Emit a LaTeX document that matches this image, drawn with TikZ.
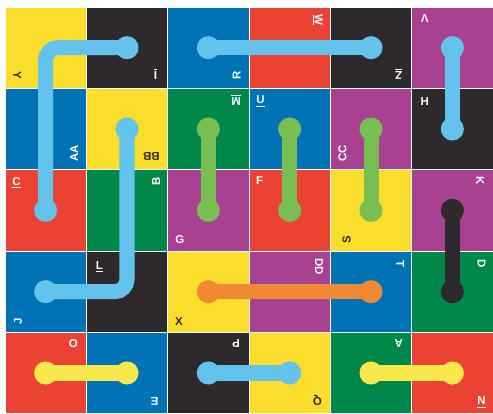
\documentclass[tikz,border=0pt]{standalone}
\usepackage{fontspec}
\setmainfont{Liberation Sans}
\usepackage{tikz}
\usetikzlibrary{positioning, arrows.meta, calc}
\definecolor{tileyellow}{HTML}{FBDD2C}
\definecolor{tileblack}{HTML}{2D292C}
\definecolor{tileblue}{HTML}{0073B7}
\definecolor{tilered}{HTML}{EA4333}
\definecolor{tilegreen}{HTML}{00884B}
\definecolor{tilepurple}{HTML}{A8418F}
\definecolor{pipesky}{HTML}{63C3EC}
\definecolor{pipegreen}{HTML}{78BE52}
\definecolor{pipeorange}{HTML}{F18833}
\definecolor{pipedark}{HTML}{2D292C}
\definecolor{pipeyellow}{HTML}{F9E84C}
\tikzset{
	cell/.style={rectangle, draw=white, line width=0.6pt, minimum size=2cm, inner sep=0pt, outer sep=0pt},
	tag/.style={text=white, font=\fontsize{8}{9}\selectfont\bfseries, inner sep=0pt},
	tagdark/.style={tag, text=tileblack},
	pipe/.style={line width=10.5pt, {Circle[length=16pt]}-{Circle[length=16pt]}, shorten <=-8pt, shorten >=-8pt, rounded corners=0.3cm}
}
\begin{document}
\begin{tikzpicture}[x=2cm, y=2cm, node distance=0pt]
		\useasboundingbox (-0.0615,0.086) rectangle (6,-5);
		% tiles, row by row
		\node[cell, fill=tileyellow] (a1) at (0.5,-0.5) {};
		\node[cell, fill=tileblack, right=of a1] (a2) {};
		\node[cell, fill=tileblue, right=of a2] (a3) {};
		\node[cell, fill=tilered, right=of a3] (a4) {};
		\node[cell, fill=tileblack, right=of a4] (a5) {};
		\node[cell, fill=tilepurple, right=of a5] (a6) {};
		
		\node[cell, fill=tileblue, below=of a1] (b1) {};
		\node[cell, fill=tileyellow, right=of b1] (b2) {};
		\node[cell, fill=tilegreen, right=of b2] (b3) {};
		\node[cell, fill=tileblue, right=of b3] (b4) {};
		\node[cell, fill=tilepurple, right=of b4] (b5) {};
		\node[cell, fill=tileblack, right=of b5] (b6) {};
		
		\node[cell, fill=tilered, below=of b1] (c1) {};
		\node[cell, fill=tilegreen, right=of c1] (c2) {};
		\node[cell, fill=tilepurple, right=of c2] (c3) {};
		\node[cell, fill=tilered, right=of c3] (c4) {};
		\node[cell, fill=tileyellow, right=of c4] (c5) {};
		\node[cell, fill=tilepurple, right=of c5] (c6) {};
		
		\node[cell, fill=tileblue, below=of c1] (d1) {};
		\node[cell, fill=tileblack, right=of d1] (d2) {};
		\node[cell, fill=tileyellow, right=of d2] (d3) {};
		\node[cell, fill=tilepurple, right=of d3] (d4) {};
		\node[cell, fill=tileblue, right=of d4] (d5) {};
		\node[cell, fill=tilegreen, right=of d5] (d6) {};
		
		\node[cell, fill=tilered, below=of d1] (e1) {};
		\node[cell, fill=tileblue, right=of e1] (e2) {};
		\node[cell, fill=tileblack, right=of e2] (e3) {};
		\node[cell, fill=tileyellow, right=of e3] (e4) {};
		\node[cell, fill=tilegreen, right=of e4] (e5) {};
		\node[cell, fill=tilered, right=of e5] (e6) {};
		
		% letters in the corners
		\node[tagdark, rotate=-90] (ta1) at ($(a1.south west)+(0.15,0.16)$) {Y};
		\node[tag, rotate=180] (ta2) at ($(a2.south east)+(-0.15,0.18)$) {\underline{I}};
		\node[tag, rotate=90] (ta3) at ($(a3.south east)+(-0.15,0.16)$) {R};
		\node[tag, rotate=-90] (ta4) at ($(a4.north east)+(-0.16,-0.16)$) {\underline{W}};
		\node[tag, rotate=180] (ta5) at ($(a5.south east)+(-0.16,0.18)$) {\underline{Z}};
		\node[tag, rotate=180] (ta6) at ($(a6.north west)+(0.16,-0.14)$) {V};
		
		\node[tag, rotate=90] (tb1) at ($(b1.south east)+(-0.15,0.2)$) {AA};
		\node[tagdark, rotate=180] (tb2) at ($(b2.south east)+(-0.2,0.16)$) {BB};
		\node[tag, rotate=180] (tb3) at ($(b3.north east)+(-0.16,-0.14)$) {\underline{M}};
		\node[tag] (tb4) at ($(b4.north west)+(0.14,-0.16)$) {\underline{U}};
		\node[tag, rotate=90] (tb5) at ($(b5.south west)+(0.15,0.2)$) {CC};
		\node[tag] (tb6) at ($(b6.north west)+(0.16,-0.16)$) {H};
		
		\node[tag] (tc1) at ($(c1.north west)+(0.14,-0.16)$) {\underline{C}};
		\node[tag, rotate=90] (tc2) at ($(c2.north east)+(-0.14,-0.14)$) {B};
		\node[tag] (tc3) at ($(c3.south west)+(0.15,0.14)$) {G};
		\node[tag] (tc4) at ($(c4.north west)+(0.13,-0.14)$) {F};
		\node[tagdark, rotate=90] (tc5) at ($(c5.south west)+(0.2,0.14)$) {S};
		\node[tag, rotate=-90] (tc6) at ($(c6.north east)+(-0.16,-0.14)$) {K};
		
		\node[tag, rotate=90] (td1) at ($(d1.south west)+(0.16,0.14)$) {J};
		\node[tag] (td2) at ($(d2.north west)+(0.16,-0.2)$) {\underline{L}};
		\node[tagdark] (td3) at ($(d3.south west)+(0.14,0.13)$) {X};
		\node[tag, rotate=-90] (td4) at ($(d4.north east)+(-0.14,-0.19)$) {DD};
		\node[tag, rotate=-90] (td5) at ($(d5.north east)+(-0.14,-0.16)$) {T};
		\node[tag, rotate=-90] (td6) at ($(d6.north east)+(-0.14,-0.16)$) {D};
		
		\node[tag] (te1) at ($(e1.north east)+(-0.16,-0.14)$) {O};
		\node[tag, rotate=180] (te2) at ($(e2.south east)+(-0.16,0.15)$) {E};
		\node[tag, rotate=180] (te3) at ($(e3.north east)+(-0.16,-0.14)$) {P};
		\node[tagdark, rotate=180] (te4) at ($(e4.south east)+(-0.16,0.16)$) {Q};
		\node[tag, rotate=180] (te5) at ($(e5.north east)+(-0.16,-0.14)$) {A};
		\node[tag] (te6) at ($(e6.south east)+(-0.14,0.14)$) {\underline{N}};
		
		% pipes
		\draw[pipe, pipesky] (a2.center) -| (c1.center);
		\draw[pipe, pipesky] (a3.center) -- (a5.center);
		\draw[pipe, pipesky] (a6.center) -- (b6.center);
		\draw[pipe, pipesky] (b2.center) |- (d1.center);
		\draw[pipe, pipegreen] (b3.center) -- (c3.center);
		\draw[pipe, pipegreen] (b4.center) -- (c4.center);
		\draw[pipe, pipegreen] (b5.center) -- (c5.center);
		\draw[pipe, pipedark] (c6.center) -- (d6.center);
		\draw[pipe, pipeorange] (d3.center) -- (d5.center);
		\draw[pipe, pipeyellow] (e1.center) -- (e2.center);
		\draw[pipe, pipesky] (e3.center) -- (e4.center);
		\draw[pipe, pipeyellow] (e5.center) -- (e6.center);
		
	\end{tikzpicture}
\end{document}
